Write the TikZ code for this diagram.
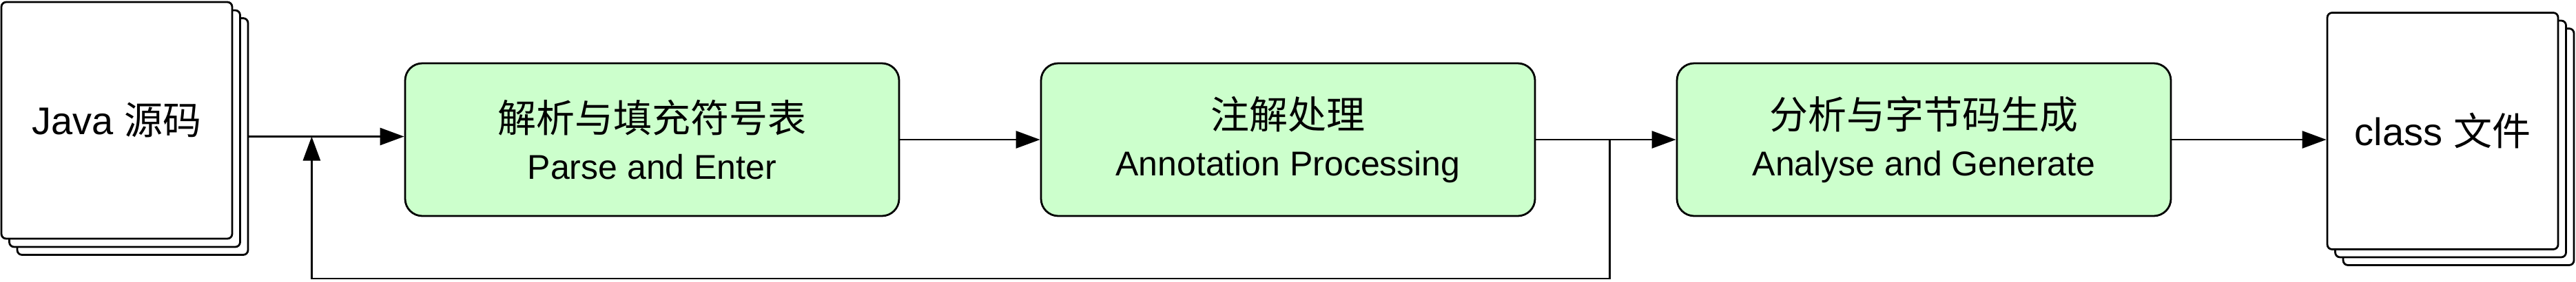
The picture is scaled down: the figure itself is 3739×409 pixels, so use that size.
\documentclass[tikz,border=0pt]{standalone}
\usepackage{fontspec}
\setmainfont{Liberation Sans}
\newfontfamily\cjk{Noto Sans CJK SC}
\usetikzlibrary{arrows.meta}
\definecolor{stagegreen}{HTML}{CCFFCC}
\newcommand\zh[1]{{\cjk\fontsize{28}{34}\selectfont #1}}
\tikzset{
  page/.style={draw, fill=white, line width=1.4pt, rounded corners=3.5pt,
    minimum width=167.5pt, minimum height=172pt, inner sep=0pt,
    font=\fontsize{28}{34}\selectfont},
  stage/.style={draw, fill=stagegreen, line width=1.4pt, rounded corners=12.5pt,
    minimum width=358.5pt, minimum height=111pt, inner sep=0pt, align=center,
    font=\fontsize{25}{34}\selectfont},
  flow/.style={line width=1.4pt, -{Triangle[length=17.5pt,width=12.5pt]}}
}
\begin{document}
\begin{tikzpicture}[x=0.5pt,y=-0.5pt]
\useasboundingbox (0,0) rectangle (3739,409);
% stack of source files
\node[page] (java3) at (192.5,198.5) {};
\node[page] (java2) at (181,187) {};
\node[page] (java) at (169.5,175) {Java \zh{源码}};
% compiler stages
\node[stage] (parse) at (946.5,203) {\zh{解析与填充符号表}\\Parse and Enter};
\node[stage] (annot) at (1869.5,203) {\zh{注解处理}\\Annotation Processing};
\node[stage] (gen) at (2792.5,203) {\zh{分析与字节码生成}\\Analyse and Generate};
% stack of class files
\node[page] (cls3) at (3568.5,213.5) {};
\node[page] (cls2) at (3557,202) {};
\node[page] (cls) at (3545.5,190.5) {class \zh{文件}};
% connectors
\coordinate (back) at ([xshift=45.5pt]java3.east);
\coordinate (loop) at ([xshift=53.5pt]annot.east);
\draw[flow] (java3.east) -- (java3.east -| parse.west);
\draw[flow] (parse) -- (annot);
\draw[flow] (annot) -- (gen);
\draw[flow] (gen.east) -- (gen.east -| cls.west);
\draw[flow] (loop) -- ++(0,202) -| (back);
\end{tikzpicture}
\end{document}
